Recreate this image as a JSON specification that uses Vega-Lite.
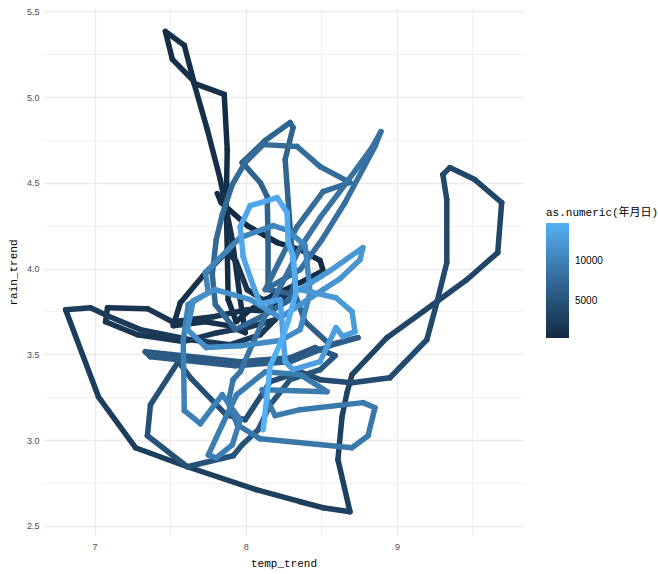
{
"$schema": "https://vega.github.io/schema/vega-lite/v6.json",
"width": 479, "height": 528,
"autosize": {"type": "none"},
"padding": {"left": 44, "top": 8, "right": 135, "bottom": 38},
"background": "white",
"config": {"view": {"stroke": null}, "font": "Liberation Mono, Noto Sans CJK JP, monospace"},
"data": {"values": [
{"x":7.812,"y":4.438,"t":490},{"x":7.838,"y":4.385,"t":518},{"x":8.010,"y":4.251,"t":547},{"x":8.208,"y":4.152,"t":575},{"x":8.360,"y":4.111,"t":604},{"x":8.492,"y":4.047,"t":632},{"x":8.512,"y":3.988,"t":661},{"x":8.360,"y":3.918,"t":689},{"x":8.175,"y":3.842,"t":718},{"x":8.030,"y":3.760,"t":746},
{"x":7.937,"y":3.690,"t":775},{"x":7.884,"y":3.819,"t":803},{"x":7.878,"y":4.111,"t":832},{"x":7.871,"y":4.373,"t":860},{"x":7.878,"y":4.694,"t":889},{"x":7.858,"y":5.016,"t":917},{"x":7.660,"y":5.080,"t":946},{"x":7.594,"y":5.302,"t":974},{"x":7.469,"y":5.383,"t":1003},{"x":7.515,"y":5.220,"t":1031},
{"x":7.653,"y":5.097,"t":1060},{"x":7.746,"y":4.811,"t":1088},{"x":7.832,"y":4.519,"t":1117},{"x":7.911,"y":4.169,"t":1145},{"x":7.964,"y":3.819,"t":1174},{"x":7.997,"y":3.626,"t":1202},{"x":7.884,"y":3.667,"t":1231},{"x":7.733,"y":3.690,"t":1259},{"x":7.521,"y":3.667,"t":1288},{"x":7.568,"y":3.801,"t":1316},
{"x":7.719,"y":3.959,"t":1345},{"x":7.878,"y":4.099,"t":1373},{"x":7.937,"y":4.041,"t":1402},{"x":8.010,"y":3.877,"t":1430},{"x":8.109,"y":3.819,"t":1459},{"x":8.261,"y":3.842,"t":1487},{"x":8.162,"y":3.749,"t":1516},{"x":8.010,"y":3.760,"t":1544},{"x":7.785,"y":3.719,"t":1573},{"x":7.515,"y":3.690,"t":1601},
{"x":7.350,"y":3.766,"t":1700},{"x":7.086,"y":3.772,"t":1767},{"x":7.073,"y":3.690,"t":1834},{"x":7.284,"y":3.614,"t":1901},{"x":7.587,"y":3.574,"t":1968},{"x":7.812,"y":3.626,"t":2035},{"x":8.030,"y":3.661,"t":2102},{"x":8.195,"y":3.702,"t":2169},{"x":8.096,"y":3.614,"t":2236},{"x":7.898,"y":3.556,"t":2303},
{"x":7.634,"y":3.585,"t":2370},{"x":7.304,"y":3.644,"t":2437},{"x":7.086,"y":3.725,"t":2504},{"x":6.974,"y":3.772,"t":2571},{"x":6.809,"y":3.760,"t":2638},{"x":7.026,"y":3.252,"t":2705},{"x":7.271,"y":2.955,"t":2772},{"x":7.614,"y":2.844,"t":2839},{"x":8.069,"y":2.710,"t":2906},{"x":8.360,"y":2.640,"t":2973},
{"x":8.512,"y":2.605,"t":3040},{"x":8.690,"y":2.581,"t":3107},{"x":8.610,"y":2.885,"t":3174},{"x":8.637,"y":3.136,"t":3241},{"x":8.670,"y":3.276,"t":3308},{"x":8.703,"y":3.381,"t":3375},{"x":8.934,"y":3.597,"t":3442},{"x":9.238,"y":3.790,"t":3509},{"x":9.462,"y":3.935,"t":3576},{"x":9.667,"y":4.093,"t":3643},
{"x":9.693,"y":4.385,"t":3710},{"x":9.515,"y":4.519,"t":3777},{"x":9.350,"y":4.589,"t":3844},{"x":9.304,"y":4.548,"t":3911},{"x":9.330,"y":4.403,"t":3978},{"x":9.330,"y":4.035,"t":4045},{"x":9.264,"y":3.801,"t":4112},{"x":9.198,"y":3.585,"t":4179},{"x":8.954,"y":3.363,"t":4246},{"x":8.703,"y":3.334,"t":4313},
{"x":8.492,"y":3.352,"t":4380},{"x":8.360,"y":3.398,"t":4447},{"x":8.162,"y":3.340,"t":4514},{"x":7.997,"y":3.118,"t":4581},{"x":7.871,"y":3.147,"t":4648},{"x":7.640,"y":3.358,"t":4715},{"x":7.554,"y":3.457,"t":4782},{"x":7.370,"y":3.206,"t":4849},{"x":7.350,"y":3.025,"t":4916},{"x":7.614,"y":2.844,"t":4983},
{"x":7.917,"y":2.908,"t":5050},{"x":7.977,"y":2.972,"t":5117},{"x":8.083,"y":3.060,"t":5184},
{"x":8.162,"y":3.206,"t":5300},{"x":8.294,"y":3.352,"t":5380},{"x":8.492,"y":3.410,"t":5460},{"x":8.591,"y":3.492,"t":5540},{"x":8.459,"y":3.539,"t":5620},{"x":8.294,"y":3.480,"t":5700},{"x":7.964,"y":3.457,"t":5780},{"x":7.336,"y":3.515,"t":5860},{"x":7.370,"y":3.486,"t":5940},{"x":7.931,"y":3.433,"t":6020},
{"x":8.294,"y":3.457,"t":6100},{"x":8.558,"y":3.550,"t":6180},{"x":8.743,"y":3.597,"t":6260},{"x":8.558,"y":3.556,"t":6340},{"x":8.393,"y":3.690,"t":6420},{"x":8.327,"y":3.848,"t":6500},
{"x":8.148,"y":3.877,"t":6600},{"x":8.148,"y":4.169,"t":6650},{"x":8.142,"y":4.420,"t":6700},{"x":8.096,"y":4.502,"t":6750},{"x":7.977,"y":4.619,"t":6800},{"x":8.129,"y":4.747,"t":6850},{"x":8.294,"y":4.852,"t":6900},{"x":8.313,"y":4.823,"t":6950},{"x":8.261,"y":4.636,"t":7000},{"x":8.280,"y":4.403,"t":7050},
{"x":8.300,"y":4.169,"t":7100},{"x":8.327,"y":3.936,"t":7150},{"x":8.294,"y":3.819,"t":7200},{"x":8.129,"y":3.731,"t":7250},{"x":7.931,"y":3.644,"t":7300},{"x":7.799,"y":3.790,"t":7350},{"x":7.779,"y":3.965,"t":7400},{"x":7.805,"y":4.169,"t":7450},{"x":7.845,"y":4.315,"t":7500},{"x":7.911,"y":4.490,"t":7550},
{"x":7.997,"y":4.619,"t":7600},{"x":8.116,"y":4.723,"t":7650},{"x":8.340,"y":4.712,"t":7700},{"x":8.492,"y":4.595,"t":7750},{"x":8.690,"y":4.502,"t":7800},{"x":8.512,"y":4.449,"t":7850},{"x":8.340,"y":4.245,"t":7900},{"x":8.228,"y":4.052,"t":7950},{"x":8.129,"y":3.877,"t":8000},
{"x":8.360,"y":3.994,"t":8100},{"x":8.505,"y":4.169,"t":8150},{"x":8.657,"y":4.385,"t":8200},{"x":8.855,"y":4.712,"t":8250},{"x":8.894,"y":4.799,"t":8300},{"x":8.835,"y":4.706,"t":8350},{"x":8.657,"y":4.490,"t":8400},{"x":8.492,"y":4.297,"t":8450},{"x":8.360,"y":4.122,"t":8500},{"x":8.261,"y":3.947,"t":8550},
{"x":8.148,"y":3.760,"t":8600},{"x":8.043,"y":3.556,"t":8650},{"x":7.964,"y":3.398,"t":8700},{"x":7.917,"y":3.352,"t":8750},{"x":7.884,"y":3.218,"t":8800},{"x":7.944,"y":3.089,"t":8850},{"x":8.096,"y":3.007,"t":8900},{"x":8.703,"y":2.955,"t":8950},{"x":8.809,"y":3.025,"t":9000},{"x":8.855,"y":3.188,"t":9050},
{"x":8.776,"y":3.218,"t":9100},{"x":8.360,"y":3.177,"t":9150},{"x":8.195,"y":3.142,"t":9200},{"x":8.109,"y":3.293,"t":9250},{"x":8.538,"y":3.282,"t":9300},{"x":8.360,"y":3.381,"t":9350},{"x":8.129,"y":3.398,"t":9400},{"x":7.940,"y":3.264,"t":9450},{"x":7.845,"y":3.089,"t":9500},{"x":7.753,"y":2.913,"t":9550},
{"x":7.805,"y":2.896,"t":9600},{"x":7.911,"y":2.972,"t":9650},{"x":7.964,"y":3.118,"t":9700},{"x":7.845,"y":3.264,"t":9750},{"x":7.700,"y":3.095,"t":9800},{"x":7.594,"y":3.171,"t":9850},{"x":7.587,"y":3.580,"t":9900},{"x":7.620,"y":3.790,"t":9950},{"x":7.753,"y":3.860,"t":10000},
{"x":7.733,"y":3.977,"t":10100},{"x":7.964,"y":4.181,"t":10202},{"x":8.182,"y":4.251,"t":10305},{"x":8.280,"y":4.222,"t":10407},{"x":8.393,"y":4.134,"t":10510},{"x":8.406,"y":4.029,"t":10612},{"x":8.426,"y":3.860,"t":10714},{"x":8.360,"y":3.644,"t":10817},{"x":8.228,"y":3.580,"t":10919},{"x":7.964,"y":3.550,"t":11022},
{"x":7.739,"y":3.539,"t":11124},{"x":7.614,"y":3.644,"t":11226},{"x":7.653,"y":3.813,"t":11329},{"x":7.799,"y":3.877,"t":11431},{"x":8.030,"y":3.819,"t":11534},{"x":8.228,"y":3.714,"t":11636},{"x":8.512,"y":3.877,"t":11738},{"x":8.624,"y":3.941,"t":11841},{"x":8.756,"y":4.052,"t":11943},{"x":8.775,"y":4.122,"t":12046},
{"x":8.558,"y":3.988,"t":12148},{"x":8.360,"y":3.877,"t":12250},{"x":8.597,"y":3.830,"t":12353},{"x":8.703,"y":3.749,"t":12455},{"x":8.723,"y":3.632,"t":12558},{"x":8.643,"y":3.603,"t":12660},{"x":8.597,"y":3.655,"t":12762},{"x":8.492,"y":3.457,"t":12865},{"x":8.313,"y":3.410,"t":12967},{"x":8.261,"y":3.457,"t":13070},
{"x":8.228,"y":3.819,"t":13172},{"x":8.096,"y":3.795,"t":13274},{"x":8.049,"y":3.901,"t":13377},{"x":7.983,"y":4.070,"t":13479},{"x":7.964,"y":4.245,"t":13582},{"x":8.030,"y":4.367,"t":13684},{"x":8.208,"y":4.414,"t":13786},{"x":8.274,"y":4.327,"t":13889},{"x":8.280,"y":4.157,"t":13991},{"x":8.313,"y":4.070,"t":14094},
{"x":8.333,"y":3.860,"t":14196},{"x":8.280,"y":3.690,"t":14298},{"x":8.228,"y":3.562,"t":14401},{"x":8.162,"y":3.433,"t":14503},{"x":8.116,"y":3.060,"t":14604}
]},
"transform": [
  {"window": [{"op": "lead", "field": "x", "as": "x2"}, {"op": "lead", "field": "y", "as": "y2"}], "sort": [{"field": "t", "order": "ascending"}]},
  {"filter": "datum.x2 != null"}
],
"mark": {"type": "rule", "strokeWidth": 5.5, "strokeCap": "round"},
"encoding": {
  "x": {"field": "x", "type": "quantitative", "title": "temp_trend",
        "scale": {"domain": [6.666, 9.834], "nice": false, "zero": false},
        "axis": {"values": [7, 7.5, 8, 8.5, 9, 9.5], "labelExpr": "datum.value % 1 === 0 ? format(datum.value, 'd') : ''",
                 "domain": false, "ticks": false, "labelPadding": 6, "labelFontSize": 9, "labelColor": "#4D4D4D", "labelOverlap": false,
                 "labelFont": "Liberation Sans, DejaVu Sans, sans-serif",
                 "gridColor": "#EBEBEB", "gridWidth": {"condition": {"test": "datum.value % 1 === 0", "value": 1.4}, "value": 0.7},
                 "titleFontSize": 11, "titleFontWeight": "normal", "titleColor": "#000000", "titlePadding": 6}},
  "y": {"field": "y", "type": "quantitative", "title": "rain_trend",
        "scale": {"domain": [2.44, 5.52], "nice": false, "zero": false},
        "axis": {"values": [2.5, 2.75, 3, 3.25, 3.5, 3.75, 4, 4.25, 4.5, 4.75, 5, 5.25, 5.5],
                 "labelExpr": "(datum.value * 2) % 1 === 0 ? format(datum.value, '.1f') : ''",
                 "domain": false, "ticks": false, "labelPadding": 5, "labelFontSize": 9, "labelColor": "#4D4D4D", "labelOverlap": false,
                 "labelFont": "Liberation Sans, DejaVu Sans, sans-serif",
                 "gridColor": "#EBEBEB", "gridWidth": {"condition": {"test": "(datum.value * 2) % 1 === 0", "value": 1.4}, "value": 0.7},
                 "titleFontSize": 11, "titleFontWeight": "normal", "titleColor": "#000000", "titlePadding": 8}},
  "x2": {"field": "x2"},
  "y2": {"field": "y2"},
  "color": {"field": "t", "type": "quantitative",
            "scale": {"domain": [490, 14604], "range": ["#132B43", "#56B1F7"], "interpolate": "lab"},
            "legend": {"title": "as.numeric(年月日)", "values": [5000, 10000], "format": "d", "orient": "none", "legendX": 502, "legendY": 199,
                       "direction": "vertical", "gradientLength": 115, "gradientThickness": 23, "gradientStrokeWidth": 0,
                       "titleFontSize": 11, "titleFontWeight": "normal", "titleColor": "#000000", "titlePadding": 5, "titleLimit": 200,
                       "labelFont": "Liberation Sans, DejaVu Sans, sans-serif",
                       "labelFontSize": 10, "labelColor": "#000000", "labelOffset": 6}}
}
}
